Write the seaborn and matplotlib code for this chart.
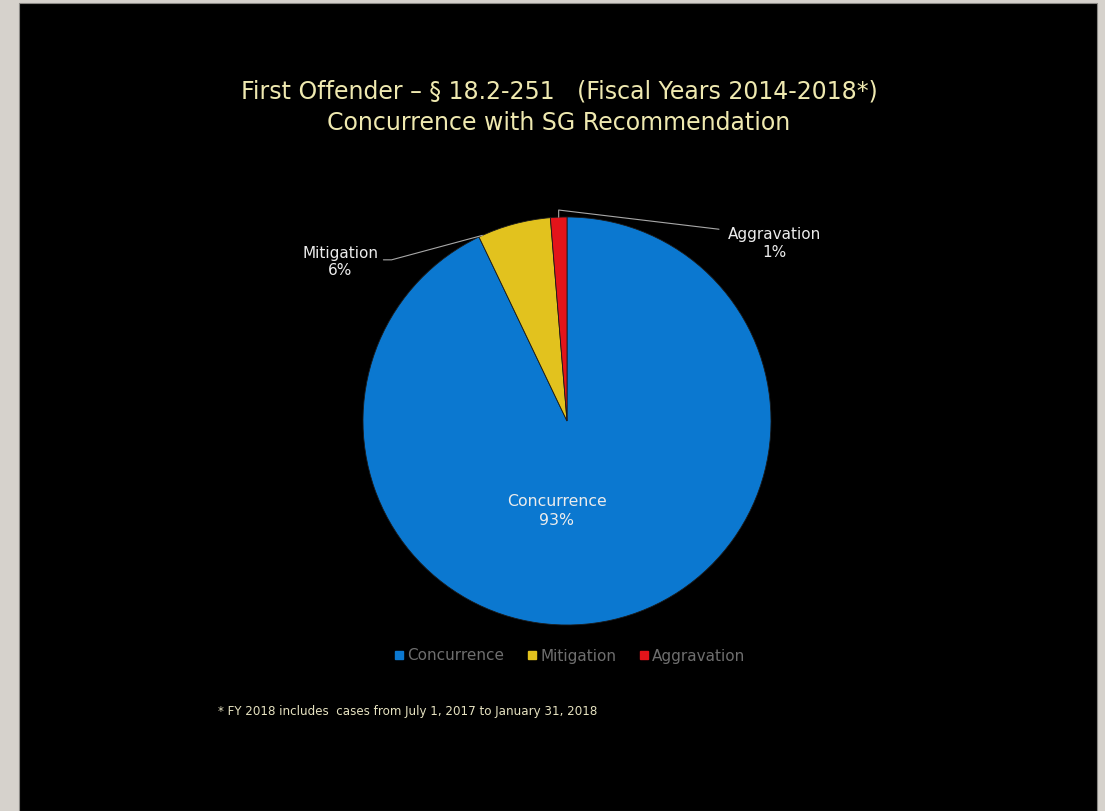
import numpy as np
import matplotlib
matplotlib.use("Agg")
import matplotlib.pyplot as plt
from matplotlib.patches import Rectangle
from matplotlib.lines import Line2D
import seaborn as sns

# values (percent of cases)
categories = ["Concurrence", "Mitigation", "Aggravation"]
shares = [92.9, 5.8, 1.3]
slice_colors = ["#0b78d0", "#e2c21e", "#e3141a"]

title_lines = ["First Offender \u2013 \u00a7 18.2-251   (Fiscal Years 2014-2018*)",
               "Concurrence with SG Recommendation"]
footnote = "* FY 2018 includes  cases from July 1, 2017 to January 31, 2018"

sns.set_theme(style="dark")
plt.rcParams['font.family'] = ['DejaVu Sans']

W, H = 1105, 811
fig = plt.figure(figsize=(W / 100, H / 100), dpi=100)
fig.patch.set_facecolor("#d6d2cc")
# black slide panel, kept behind the pie axes
fig.patches.append(Rectangle((19 / W, 0), 1078 / W, 808 / H, transform=fig.transFigure,
                             facecolor="#000000", edgecolor="#8a8884", lw=0.8, zorder=-5))

cx, cy, r = 567, 390, 204
ax = fig.add_axes([(cx - r) / W, (cy - r) / H, 2 * r / W, 2 * r / H])
ax.set_zorder(1)
ax.set_facecolor("none")

wedges, _ = ax.pie(shares, colors=slice_colors, startangle=90, counterclock=False,
                   radius=1.0, wedgeprops=dict(edgecolor="#1a1a1a", linewidth=0.6))
# pie() resets the limits, so fix them afterwards
ax.set_xlim(-1, 1)
ax.set_ylim(-1, 1)
ax.set_aspect("equal")
ax.axis("off")

def pct(v):
    return f"{round(v / sum(shares) * 100):.0f}%"

lbl_color = "#ececec"
line_color = "#a8a8a8"
# inside label for the big slice
ax.text(-0.05, -0.44, f"{categories[0]}\n{pct(shares[0])}", ha="center", va="center",
        color=lbl_color, fontsize=11.3, linespacing=1.3)

# Mitigation label with leader line to the wedge edge
w = wedges[1]
ang = np.deg2rad(w.theta1 + 0.95 * (w.theta2 - w.theta1))
px, py = np.cos(ang), np.sin(ang)
ax.plot([-0.90, -0.86, px], [0.79, 0.79, py], color=line_color, lw=0.8, clip_on=False)
ax.text(-1.11, 0.78, f"{categories[1]}\n{pct(shares[1])}", ha="center", va="center",
        color=lbl_color, fontsize=11, linespacing=1.2)

# Aggravation label with elbow leader line
w = wedges[2]
ang = np.deg2rad(0.5 * (w.theta1 + w.theta2))
px, py = np.cos(ang), np.sin(ang)
ax.plot([0.745, px, px], [0.94, py + 0.035, py], color=line_color, lw=0.8, clip_on=False)
ax.text(1.015, 0.87, f"{categories[2]}\n{pct(shares[2])}", ha="center", va="center",
        color=lbl_color, fontsize=11, linespacing=1.2)

# title
fig.text(559 / W, 1 - 91 / H, title_lines[0], ha="center", va="center",
         color="#efe9b0", fontsize=17)
fig.text(559 / W, 1 - 123 / H, title_lines[1], ha="center", va="center",
         color="#efe9b0", fontsize=17)

# legend
handles = [Line2D([0], [0], marker="s", linestyle="none", markersize=6,
                  markerfacecolor=c, markeredgecolor=c) for c in slice_colors]
fig.legend(handles, categories, loc="center", bbox_to_anchor=(570 / W, 1 - 656 / H),
           ncol=3, frameon=False, fontsize=11, labelcolor="#6e6e6e",
           handlelength=0.6, handletextpad=0.25, columnspacing=1.5)

# footnote
fig.text(218 / W, 1 - 711 / H, footnote, ha="left", va="center",
         color="#e6e2c0", fontsize=8.6)

fig.savefig("out.png", dpi=100, facecolor=fig.get_facecolor())
